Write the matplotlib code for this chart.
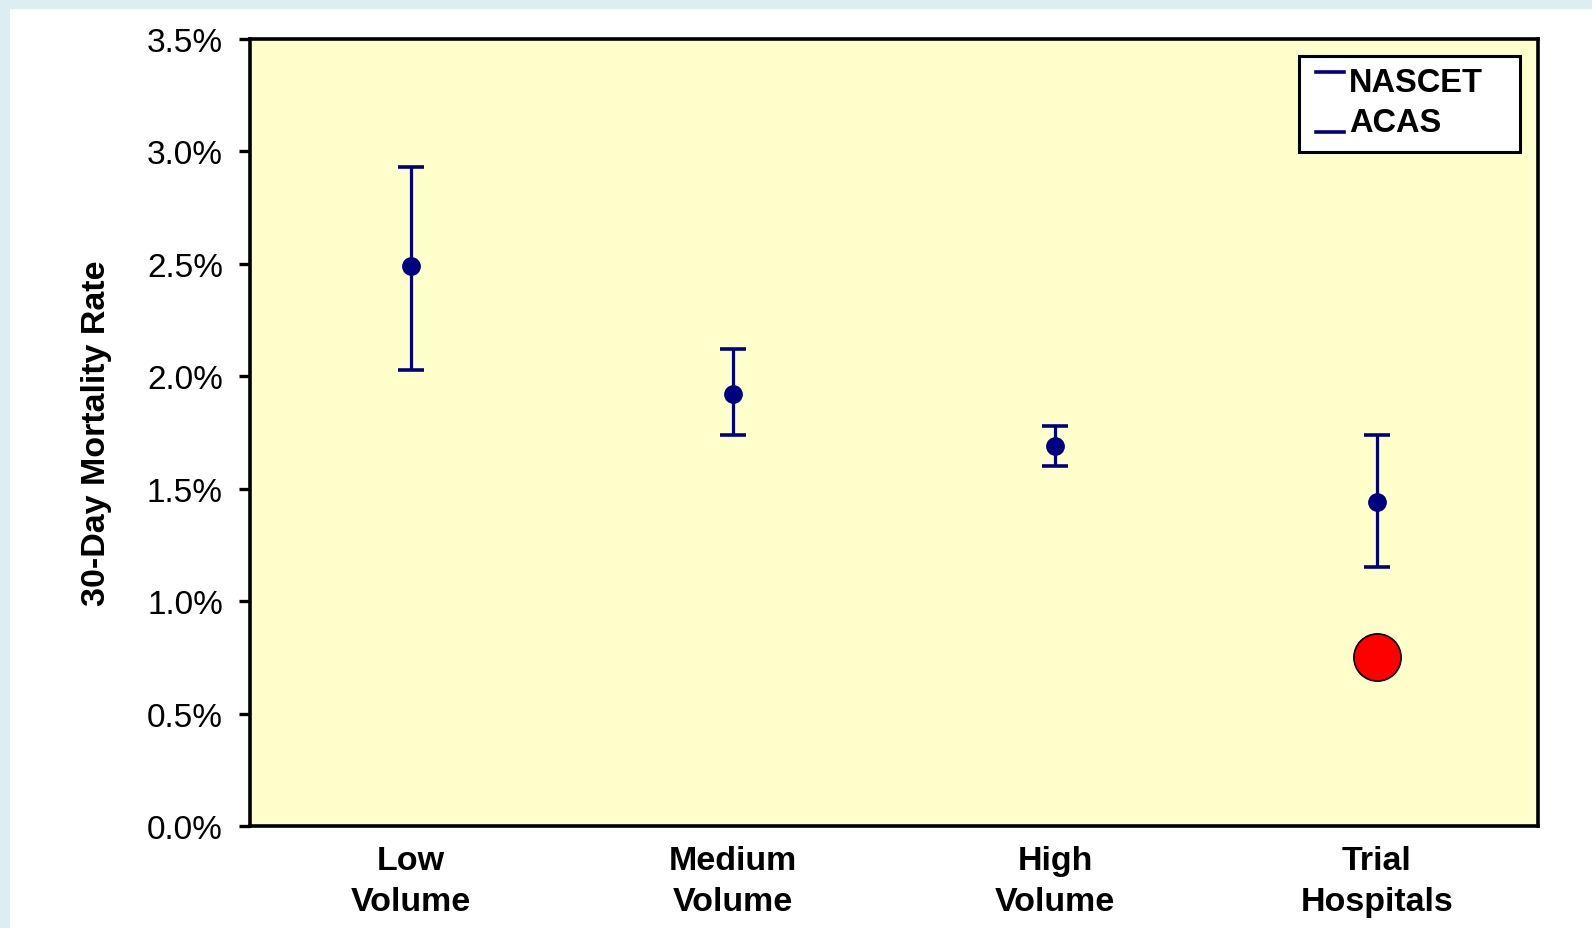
import matplotlib
matplotlib.use("Agg")
import matplotlib.pyplot as plt
from matplotlib.patches import Rectangle
from matplotlib.lines import Line2D
from matplotlib.ticker import FuncFormatter

# Hospital volume groups and 30-day mortality (%), with confidence limits
categories = ["Low\nVolume", "Medium\nVolume", "High\nVolume", "Trial\nHospitals"]
mortality = [2.49, 1.92, 1.69, 1.44]
ci_low = [2.03, 1.74, 1.60, 1.15]
ci_high = [2.93, 2.12, 1.78, 1.74]
trial_rate_label = "Trial\nHospitals"
trial_rate = [0.75]
legend_labels = ["NASCET", "ACAS"]
y_ticks = [0.0, 0.5, 1.0, 1.5, 2.0, 2.5, 3.0, 3.5]

NAVY = "#000080"
W, H = 1592, 929
fig = plt.figure(figsize=(W / 100, H / 100), dpi=100)
fig.patch.set_facecolor("white")

# light frame along the top and left edges
border = "#ddeef3"
fig.patches.append(Rectangle((0, 1 - 10 / H), 1, 10 / H, transform=fig.transFigure,
                             facecolor=border, edgecolor="none", zorder=0))
fig.patches.append(Rectangle((0, 0), 10 / W, 1, transform=fig.transFigure,
                             facecolor=border, edgecolor="none", zorder=0))

left, right, top, bottom = 250, 1538, 40, 827
ax = fig.add_axes([left / W, 1 - bottom / H, (right - left) / W, (bottom - top) / H])
ax.set_facecolor("#ffffcc")

xpos = [i + 0.5 for i in range(len(categories))]
yerr = [[m - lo for m, lo in zip(mortality, ci_low)],
        [hi - m for m, hi in zip(mortality, ci_high)]]
ax.errorbar(xpos, mortality, yerr=yerr, fmt="o", color=NAVY, ecolor=NAVY,
            markersize=12.5, elinewidth=2.3, capsize=9.5, capthick=2.6, zorder=3)

trial_x = [xpos[categories.index(trial_rate_label)]]
ax.plot(trial_x, trial_rate, "o", markersize=34, markerfacecolor="#ff0000",
        markeredgecolor="black", markeredgewidth=1.2, zorder=3)

ax.set_xlim(0, len(categories))
ax.set_ylim(0, 3.5)
ax.set_yticks(y_ticks)
ax.yaxis.set_major_formatter(FuncFormatter(lambda v, p: f"{v:.1f}%"))
ax.set_xticks(xpos)
ax.set_xticklabels(categories, fontsize=24.5, fontweight="bold",
                   family="Liberation Sans", linespacing=1.38)
ax.tick_params(axis="x", length=0, pad=14)
ax.tick_params(axis="y", length=8, width=2.4, pad=11.5, labelsize=24)
for lab in ax.get_yticklabels():
    lab.set_family("Liberation Sans")

for side in ["left", "bottom", "right", "top"]:
    ax.spines[side].set_linewidth(2.6)
    ax.spines[side].set_color("black")

ax.set_ylabel("30-Day Mortality Rate", fontsize=24.5, fontweight="bold",
              family="Liberation Sans", labelpad=25)

# legend box with short dashes at the top and bottom rows
lx0, lx1, ly0, ly1 = 1299, 1520, 57, 153
fig.patches.append(Rectangle((lx0 / W, 1 - ly1 / H), (lx1 - lx0) / W, (ly1 - ly0) / H,
                             transform=fig.transFigure, facecolor="white",
                             edgecolor="black", linewidth=2.2, zorder=5))
dash_y = [73, 133]
text_y = [83, 123]
for lab, dy, ty in zip(legend_labels, dash_y, text_y):
    fig.add_artist(Line2D([1316 / W, 1344 / W], [1 - dy / H, 1 - dy / H],
                          transform=fig.transFigure, color=NAVY, linewidth=2.6, zorder=6))
    fig.text(1349 / W, 1 - ty / H, lab, fontsize=23.5, fontweight="bold",
             family="Liberation Sans", va="center", ha="left", zorder=6)

fig.savefig("out.png", dpi=100)
